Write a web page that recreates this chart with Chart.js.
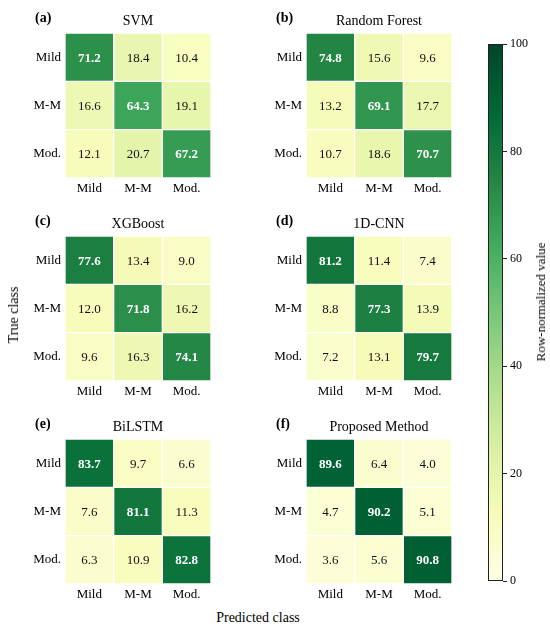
<!DOCTYPE html>
<html>
<head>
<meta charset="utf-8">
<script src="https://cdn.jsdelivr.net/npm/chart.js@4.4.1/dist/chart.umd.min.js"></script>
<style>
  body { margin: 0; background: #fff; }
  #wrap { position: relative; width: 550px; height: 630px; font-family: "Liberation Serif", "Times New Roman", serif; }
  .panel { position: absolute; }
  .axis-title { position: absolute; font-size: 14px; color: #000; white-space: nowrap; }
</style>
</head>
<body>
<div id="wrap">
  <div class="panel" style="left:0;top:0;width:225px;height:200px"><canvas id="p0"></canvas></div>
  <div class="panel" style="left:241px;top:0;width:225px;height:200px"><canvas id="p1"></canvas></div>
  <div class="panel" style="left:0;top:203px;width:225px;height:200px"><canvas id="p2"></canvas></div>
  <div class="panel" style="left:241px;top:203px;width:225px;height:200px"><canvas id="p3"></canvas></div>
  <div class="panel" style="left:0;top:406px;width:225px;height:200px"><canvas id="p4"></canvas></div>
  <div class="panel" style="left:241px;top:406px;width:225px;height:200px"><canvas id="p5"></canvas></div>
  <div class="panel" style="left:440px;top:0;width:110px;height:630px"><canvas id="cbar"></canvas></div>

  <div class="axis-title" style="left:14px;top:315px;transform:translate(-50%,-50%) rotate(-90deg)">True class</div>
  <div class="axis-title" style="left:258px;top:618px;transform:translate(-50%,-50%)">Predicted class</div>
  <div class="axis-title" style="left:541px;top:302px;font-size:13px;transform:translate(-50%,-50%) rotate(-90deg)">Row-normalized value</div>
</div>

<script>
// Class names (rows = true class, columns = predicted class)
const classLabels = ["Mild", "M-M", "Mod."];
const panelLetters = ["(a)", "(b)", "(c)", "(d)", "(e)", "(f)"];
const modelNames = ["SVM", "Random Forest", "XGBoost", "1D-CNN", "BiLSTM", "Proposed Method"];

// Row-normalized confusion matrices (%)
const svmValues = [[71.2, 18.4, 10.4], [16.6, 64.3, 19.1], [12.1, 20.7, 67.2]];
const rfValues = [[74.8, 15.6, 9.6], [13.2, 69.1, 17.7], [10.7, 18.6, 70.7]];
const xgbValues = [[77.6, 13.4, 9.0], [12.0, 71.8, 16.2], [9.6, 16.3, 74.1]];
const cnnValues = [[81.2, 11.4, 7.4], [8.8, 77.3, 13.9], [7.2, 13.1, 79.7]];
const lstmValues = [[83.7, 9.7, 6.6], [7.6, 81.1, 11.3], [6.3, 10.9, 82.8]];
const proposedValues = [[89.6, 6.4, 4.0], [4.7, 90.2, 5.1], [3.6, 5.6, 90.8]];

const colorbarTicks = [0, 20, 40, 60, 80, 100];

const allMatrices = [svmValues, rfValues, xgbValues, cnnValues, lstmValues, proposedValues];

// matplotlib YlGn colormap
const ylgnStops = ["#ffffe5", "#f7fcb9", "#d9f0a3", "#addd8e", "#78c679", "#41ab5d", "#238443", "#006837", "#004529"];

function hexToRgb(h) {
    return [parseInt(h.slice(1, 3), 16), parseInt(h.slice(3, 5), 16), parseInt(h.slice(5, 7), 16)];
}

function ylgn(v) {
    const t = Math.max(0, Math.min(1, v / 100)) * (ylgnStops.length - 1);
    const i = Math.min(Math.floor(t), ylgnStops.length - 2);
    const f = t - i;
    const a = hexToRgb(ylgnStops[i]), b = hexToRgb(ylgnStops[i + 1]);
    const c = a.map((x, k) => Math.round(x + (b[k] - x) * f));
    return "rgb(" + c.join(",") + ")";
}

const serif = "'Liberation Serif', 'Times New Roman', serif";

// Writes cell values, panel title and letter
const heatmapText = {
    id: "heatmapText",
    afterDatasetsDraw(chart) {
        const ctx = chart.ctx;
        ctx.save();
        ctx.textAlign = "center";
        ctx.textBaseline = "middle";
        chart.data.datasets.forEach((ds, r) => {
            chart.getDatasetMeta(r).data.forEach((bar, c) => {
                const v = ds.values[c];
                const big = v > 50;
                ctx.font = (big ? "bold " : "") + "13px " + serif;
                ctx.fillStyle = big ? "#fff" : "#111";
                ctx.fillText(v.toFixed(1), bar.x, (bar.y + bar.base) / 2 + 1);
            });
        });
        const area = chart.chartArea;
        const opts = chart.options.plugins.heatmapText;
        ctx.fillStyle = "#000";
        ctx.font = "14px " + serif;
        ctx.textBaseline = "alphabetic";
        ctx.fillText(opts.title, (area.left + area.right) / 2, area.top - 8);
        ctx.font = "bold 14px " + serif;
        ctx.textAlign = "left";
        ctx.fillText(opts.letter, area.left - 30, area.top - 11);
        ctx.restore();
    }
};

function createHeatmap(canvasId, matrix, title, letter) {
    const datasets = matrix.map((row, r) => ({
        label: classLabels[r],
        values: row,
        data: row.map(() => [r, r + 1]),
        backgroundColor: row.map(v => ylgn(v)),
        borderColor: "#ffffff",
        borderWidth: 1,
        borderSkipped: false,
        barPercentage: 1,
        categoryPercentage: 1,
        grouped: false
    }));
    return new Chart(document.getElementById(canvasId), {
        type: "bar",
        data: { labels: classLabels, datasets: datasets },
        options: {
            responsive: true,
            maintainAspectRatio: false,
            animation: false,
            layout: { padding: { top: 33, right: 14, left: 0, bottom: 0 } },
            plugins: {
                legend: { display: false },
                tooltip: { enabled: false },
                heatmapText: { title: title, letter: letter }
            },
            scales: {
                x: {
                    grid: { display: false, drawTicks: false },
                    border: { display: false },
                    ticks: { color: "#000", font: { family: serif, size: 13 }, padding: 3 },
                    afterFit(scale) { scale.height = 22; }
                },
                y: {
                    min: 0,
                    max: 3,
                    reverse: true,
                    grid: { display: false, drawTicks: false },
                    border: { display: false },
                    afterBuildTicks(scale) {
                        scale.ticks = classLabels.map((_, i) => ({ value: i + 0.5 }));
                    },
                    ticks: {
                        color: "#000",
                        font: { family: serif, size: 13 },
                        padding: 4,
                        callback: (v, i) => classLabels[i]
                    },
                    afterFit(scale) { scale.width = 65; }
                }
            }
        },
        plugins: [heatmapText]
    });
}

allMatrices.forEach((m, i) => createHeatmap("p" + i, m, modelNames[i], panelLetters[i]));

// Colorbar
const colorbarFrame = {
    id: "colorbarFrame",
    afterDatasetsDraw(chart) {
        const a = chart.chartArea;
        const ctx = chart.ctx;
        ctx.save();
        ctx.strokeStyle = "#222";
        ctx.lineWidth = 1;
        ctx.strokeRect(a.left + 0.5, a.top + 0.5, a.right - a.left - 1, a.bottom - a.top - 1);
        ctx.restore();
    }
};

new Chart(document.getElementById("cbar"), {
    type: "bar",
    data: {
        labels: [""],
        datasets: [{
            data: [[colorbarTicks[0], colorbarTicks[colorbarTicks.length - 1]]],
            backgroundColor(context) {
                const area = context.chart.chartArea;
                if (!area) return "#78c679";
                const g = context.chart.ctx.createLinearGradient(0, area.bottom, 0, area.top);
                ylgnStops.forEach((c, i) => g.addColorStop(i / (ylgnStops.length - 1), c));
                return g;
            },
            borderWidth: 0,
            barPercentage: 1,
            categoryPercentage: 1
        }]
    },
    options: {
        responsive: true,
        maintainAspectRatio: false,
        animation: false,
        layout: { padding: { left: 48, top: 44, bottom: 49, right: 0 } },
        plugins: { legend: { display: false }, tooltip: { enabled: false } },
        scales: {
            x: { display: false },
            y: {
                position: "right",
                min: 0,
                max: 100,
                grid: { display: true, drawOnChartArea: false, drawTicks: true, tickLength: 4, color: "#222" },
                border: { display: false },
                afterBuildTicks(scale) {
                    scale.ticks = colorbarTicks.map(v => ({ value: v }));
                },
                ticks: { color: "#000", font: { family: serif, size: 12 }, padding: 3 },
                afterFit(scale) { scale.width = 47; }
            }
        }
    },
    plugins: [colorbarFrame]
});
</script>
</body>
</html>
